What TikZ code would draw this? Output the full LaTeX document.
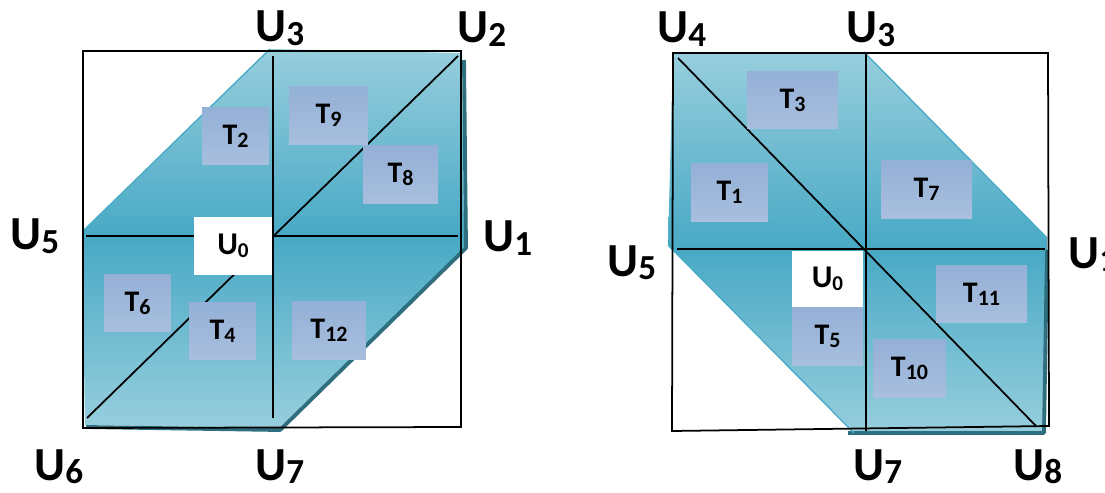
\documentclass[tikz,border=0pt]{standalone}
\usepackage{fontspec}
\setmainfont{Carlito}
\definecolor{hexlight}{HTML}{97CEDD}
\definecolor{hexdark}{HTML}{48A9C5}
\definecolor{hexedge}{HTML}{4BACC6}
\definecolor{hexshadow}{HTML}{2E6E7E}
\definecolor{boxtop}{HTML}{94B0D6}
\definecolor{boxbot}{HTML}{A8BFDE}
\tikzset{
  gridline/.style={line width=1pt, black},
  hexrim/.style={line width=0.8pt, hexedge},
  shadowedge/.style={line width=2.2pt, hexshadow, line join=round},
  tribox/.style={rectangle, top color=boxtop, bottom color=boxbot, inner sep=0pt, minimum height=1.15cm, font=\fontsize{17}{17}\selectfont\bfseries},
  centrebox/.style={rectangle, fill=white, inner sep=0pt, minimum height=1.15cm, font=\fontsize{18}{18}\selectfont\bfseries},
  vlabel/.style={anchor=base west, inner sep=0pt, font=\fontsize{27}{27}\selectfont\bfseries}
}
\newcommand{\usub}[1]{U\raisebox{-2pt}{\fontsize{20}{20}\selectfont #1}}
\newcommand{\tsub}[1]{T\raisebox{-1.8pt}{\fontsize{12.5}{12.5}\selectfont #1}}
\newcommand{\osub}[1]{U\raisebox{-1.5pt}{\fontsize{12}{12}\selectfont #1}}

\begin{document}
\begin{tikzpicture}[x=0.02cm, y=-0.02cm]
  \useasboundingbox (0,0) rectangle (1105,493);

  % left square: shaded hexagon
  \shade[top color=hexlight, bottom color=hexdark] (82,236) -- (82,232) -- (270,49) -- (462,53) -- (464,236) -- cycle;
  \shade[top color=hexdark, bottom color=hexlight] (82,236) -- (464,236) -- (465,248) -- (279,428) -- (85,425) -- cycle;
  \draw[shadowedge] (464,60) -- (466,248) -- (280,430) -- (86,427);
  \draw[hexrim] (82,232) -- (270,49);

  % left square: grid
  \coordinate (lnw) at (83,51);
  \coordinate (lne) at (461,51);
  \coordinate (lsw) at (83,428);
  \coordinate (lse) at (461,427);
  \coordinate (lc) at (273,236);
  \draw[gridline] (lnw) -- (lne) -- (lse) -- (lsw) -- cycle;
  \draw[gridline] (273,56) -- (273,418);
  \draw[gridline] (86,236) -- (458,236);
  \draw[gridline] (87,418) -- (458,56);

  \node[tribox, minimum width=1.34cm] (t2) at (235.5,136) {\tsub{2}};
  \node[tribox, minimum width=1.58cm] (t9) at (328.5,115.5) {\tsub{9}};
  \node[tribox, minimum width=1.50cm] (t8) at (400.5,174.5) {\tsub{8}};
  \node[centrebox, minimum width=1.56cm] (u0l) at (233,246) {\osub{0}};
  \node[tribox, minimum width=1.34cm] (t6) at (137.5,303) {\tsub{6}};
  \node[tribox, minimum width=1.34cm] (t4) at (222.5,331) {\tsub{4}};
  \node[tribox, minimum width=1.48cm] (t12) at (329,330.5) {\tsub{12}};

  \node[vlabel] (u3l) at (255,42) {\usub{3}};
  \node[vlabel] (u2l) at (457,43) {\usub{2}};
  \node[vlabel] (u5l) at (10,250) {\usub{5}};
  \node[vlabel] (u1l) at (483,252) {\usub{1}};
  \node[vlabel] (u6l) at (34,480) {\usub{6}};
  \node[vlabel] (u7l) at (255,480) {\usub{7}};

  % right square: shaded hexagon
  \shade[top color=hexlight, bottom color=hexdark] (668,245) -- (673,53) -- (864,52) -- (1047,238) -- (1047,249) -- (672,249) -- cycle;
  \shade[top color=hexdark, bottom color=hexlight] (672,249) -- (1047,249) -- (1044,432) -- (854,433) -- cycle;
  \draw[shadowedge] (848,433) -- (1044,433) -- (1047,250);
  \draw[hexrim] (864,52) -- (1047,238);
  \draw[hexrim] (668,245) -- (854,433);

  % right square: grid
  \coordinate (rnw) at (673,53);
  \coordinate (rne) at (1048,53);
  \coordinate (rsw) at (672,431);
  \coordinate (rse) at (1049,426);
  \coordinate (rc) at (866,249);
  \draw[gridline] (rnw) -- (rne) -- (rse) -- (rsw) -- cycle;
  \draw[gridline] (866,53) -- (866,431);
  \draw[gridline] (677,249) -- (1045,249);
  \draw[gridline] (678,58) -- (1036,426);

  \node[tribox, minimum width=1.82cm] (t3) at (792.5,100) {\tsub{3}};
  \node[tribox, minimum width=1.54cm] (t1) at (729.5,192.5) {\tsub{1}};
  \node[tribox, minimum width=1.82cm] (t7) at (926.5,189.5) {\tsub{7}};
  \node[centrebox, minimum width=1.42cm, minimum height=1.12cm] (u0r) at (827.5,279) {\osub{0}};
  \node[tribox, minimum width=1.42cm] (t5) at (827.5,336.5) {\tsub{5}};
  \node[tribox, minimum width=1.82cm] (t11) at (981.5,294) {\tsub{11}};
  \node[tribox, minimum width=1.46cm] (t10) at (909.5,368.5) {\tsub{10}};

  \node[vlabel] (u4r) at (657,43) {\usub{4}};
  \node[vlabel] (u3r) at (846,43) {\usub{3}};
  \node[vlabel] (u5r) at (607,276) {\usub{5}};
  \node[vlabel] (u1r) at (1068,268) {\usub{1}};
  \node[vlabel] (u7r) at (853,480) {\usub{7}};
  \node[vlabel] (u8r) at (1013,480) {\usub{8}};
\end{tikzpicture}
\end{document}
